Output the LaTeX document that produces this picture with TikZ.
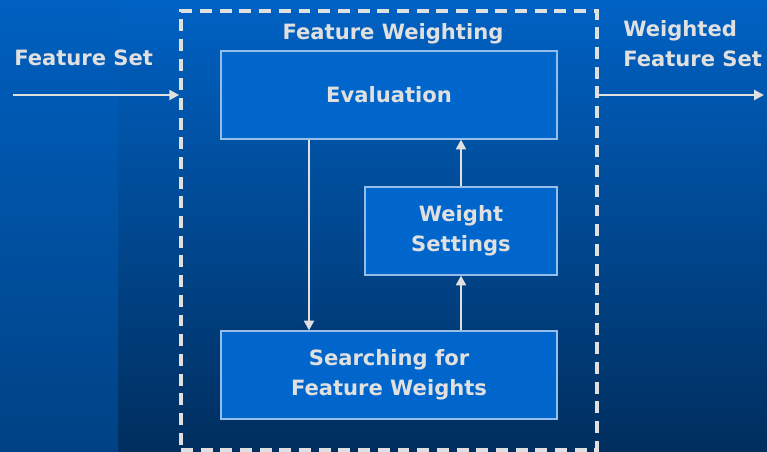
\documentclass[tikz,border=0pt]{standalone}
\usepackage{fontspec}
\setmainfont{DejaVu Sans}
\usepackage{tikz}
\usetikzlibrary{positioning, arrows.meta}
\definecolor{bg-top}{RGB}{0,98,196}
\definecolor{bg-bottom}{RGB}{0,46,94}
\definecolor{band-top}{RGB}{0,96,192}
\definecolor{band-bottom}{RGB}{0,66,132}
\definecolor{box-blue}{RGB}{0,102,204}
\definecolor{box-line}{RGB}{150,190,235}
\definecolor{chalk}{RGB}{224,224,224}

\begin{document}
\begin{tikzpicture}
				\tikzset{box/.style={rectangle, draw=box-line, line width=0.8pt, fill=box-blue, text=chalk, font=\bfseries\fontsize{15}{21}\selectfont, align=center, inner sep=0pt}}
				\tikzset{arr/.style={-{Triangle[length=7pt, width=7pt]}, draw=chalk, line width=1.8pt}}
				\tikzset{lbl/.style={text=chalk, font=\bfseries\fontsize{15}{21}\selectfont, inner sep=0pt}}
				
				% background
				\useasboundingbox (0,0) rectangle (19.175,11.3);
				\shade[top color=bg-top, bottom color=bg-bottom] (0,0) rectangle (19.175,11.3);
				\shade[top color=band-top, bottom color=band-bottom] (0,0) rectangle (2.95,11.3);
				
				\node[draw=chalk, line width=2.6pt, dash pattern=on 8.5pt off 5.5pt, minimum width=10.4cm, minimum height=10.975cm, inner sep=0pt] at (9.725,5.5375) (frame) {};
				\node[lbl] at (9.825,10.45) (frame title) {Feature Weighting};
				
				\node[box, minimum width=8.4cm, minimum height=2.2cm] at (9.725,8.925) (eval) {Evaluation};
				\node[box, minimum width=4.8cm, minimum height=2.2cm] at (11.525,5.525) (weights) {Weight\\Settings};
				\node[box, minimum width=8.4cm, minimum height=2.2cm] at (9.725,1.925) (search) {Searching for\\Feature Weights};
				
				\draw[arr] ([xshift=-2cm]eval.south) -- ([xshift=-2cm]search.north);
				\draw[arr] (search.north -| weights) -- (weights.south);
				\draw[arr] (weights.north) -- (weights.north |- eval.south);
				
				% in and out
				\coordinate (in) at (0.325,8.925);
				\coordinate (out) at (19.1,8.925);
				\node[lbl, anchor=west] at (0.35,9.85) (in label) {Feature Set};
				\node[lbl, anchor=west, align=left] at (15.575,10.2125) (out label) {Weighted\\Feature Set};
				\draw[arr] (in) -- (frame.west |- in);
				\draw[arr] (frame.east |- out) -- (out);
			\end{tikzpicture}
\end{document}
